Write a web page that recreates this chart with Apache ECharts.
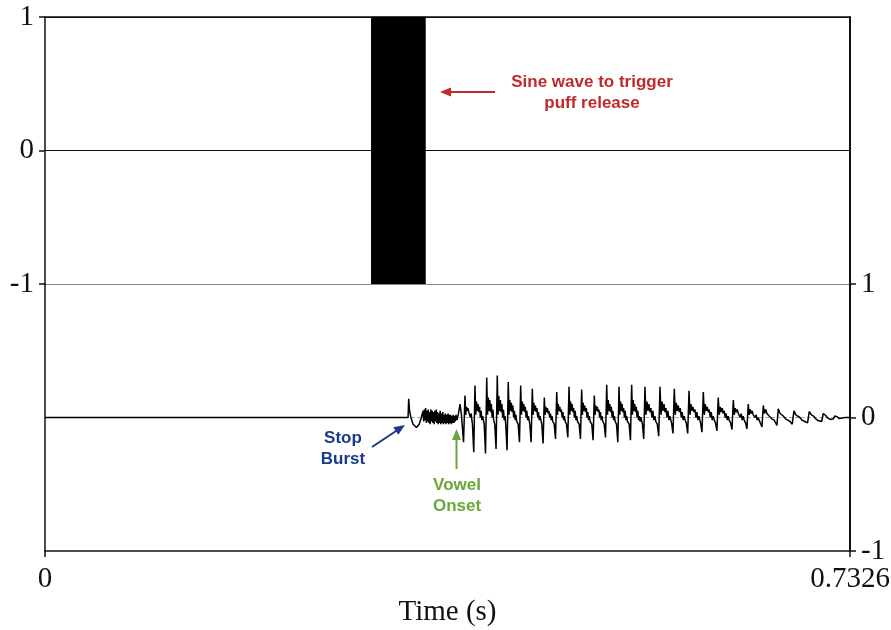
<!DOCTYPE html>
<html>
<head>
<meta charset="utf-8">
<title>Stop burst and vowel onset</title>
<script src="https://cdn.jsdelivr.net/npm/echarts@6/dist/echarts.min.js"></script>
<style>
html, body { margin:0; padding:0; background:#fff; }
#main { width:891px; height:630px; }
</style>
</head>
<body>
<div id="main"></div>
<script>
// time axis (seconds) and amplitude ticks
var timeMax = 0.7326;
var ampTicks = [-1, 0, 1];

// trigger sine wave: drawn as its envelope (ms)
var sineStartMs = 296.7;
var sineEndMs = 346.5;
var sineAmp = 1;

// microphone signal, [time ms, amplitude]
var waveMs = [
	[0, 0], [330.4, 0],
	// stop burst
	[331.0, .14], [331.8, .05], [333.0, 0], [335.0, -.05], [338.0, -.075], [340.5, -.05], [342.5, 0],
	// aspiration noise
	[344.0, .05], [344.6, -.03], [345.2, .06], [345.8, -.02], [346.4, .07], [347.0, -.04], [347.6, .05], [348.2, -.03],
	[348.8, .06], [349.4, -.04], [350.0, .04], [350.6, -.05], [351.2, .06], [351.8, -.03], [352.4, .05], [353.0, -.04],
	[353.6, .04], [354.2, -.05], [354.8, .05], [355.4, -.03], [356.0, .06], [356.6, -.04], [357.2, .04], [357.8, -.05],
	[358.4, .03], [359.0, -.04], [359.6, .05], [360.2, -.05], [360.8, .03], [361.4, -.04], [362.0, .04], [362.6, -.05],
	[363.2, .02], [363.8, -.04], [364.4, .03], [365.0, -.05], [365.6, .02], [366.2, -.04], [366.8, .03], [367.4, -.05],
	[368.0, .02], [368.6, -.04], [369.2, .02], [369.8, -.05], [370.4, .01], [371.0, -.04], [371.6, .02], [372.2, -.04],
	[372.8, .01], [373.4, -.03], [374.0, .02], [375.0, -.02], [376.5, .04], [377.7, .10], [379.0, .02], [380.9, -.185],
	// voicing
	[382.2, .165], [382.9, .02], [383.6, .08], [384.3, .05], [385.0, .07], [385.7, .04], [386.4, .05], [387.1, 0], [387.8, .03], [388.5, -.02], [389.0, -.05], [390.2, -.26],
	[391.3, .24], [392.0, .02], [392.7, .12], [393.4, .05], [394.1, .10], [394.8, .04], [395.5, .08], [396.2, 0], [396.9, .05], [397.6, -.02], [398.3, .01], [399.7, -.05], [400.9, -.27],
	[402.0, .30], [402.7, .02], [403.4, .15], [404.1, .05], [404.8, .13], [405.5, .04], [406.2, .10], [406.9, 0], [407.6, .06], [408.3, -.02], [409.3, -.05], [410.5, -.235],
	[411.6, .315], [412.3, .02], [413.0, .16], [413.7, .05], [414.4, .13], [415.1, .04], [415.8, .10], [416.5, 0], [417.2, .06], [417.9, -.02], [418.6, .01], [419.3, -.05], [420.5, -.245],
	[421.6, .265], [422.3, .02], [423.0, .13], [423.7, .05], [424.4, .11], [425.1, .04], [425.8, .09], [426.5, 0], [427.2, .05], [427.9, -.02], [428.6, .02], [429.3, -.03], [430.6, -.05], [431.8, -.185],
	[432.9, .24], [433.6, .02], [434.3, .12], [435.0, .05], [435.7, .10], [436.4, .04], [437.1, .08], [437.8, 0], [438.5, .05], [439.2, -.02], [439.9, .01], [441.2, -.05], [442.4, -.185],
	[443.5, .215], [444.2, .02], [444.9, .11], [445.6, .05], [446.3, .09], [447.0, .04], [447.7, .07], [448.4, 0], [449.1, .04], [449.8, -.02], [450.5, .01], [452.1, -.05], [453.3, -.195],
	[454.4, .15], [455.1, .02], [455.8, .08], [456.5, .04], [457.2, .07], [457.9, .03], [458.6, .05], [459.3, 0], [460.0, .03], [460.7, -.02], [461.4, .01], [462.1, -.03], [463.4, -.05], [464.6, -.16],
	[465.7, .19], [466.4, .02], [467.1, .10], [467.8, .05], [468.5, .08], [469.2, .04], [469.9, .06], [470.6, 0], [471.3, .04], [472.0, -.02], [472.7, .01], [473.4, -.03], [474.6, -.05], [475.8, -.15],
	[476.9, .23], [477.6, .02], [478.3, .12], [479.0, .05], [479.7, .10], [480.4, .04], [481.1, .07], [481.8, 0], [482.5, .05], [483.2, -.02], [483.9, .01], [484.6, -.03], [486.1, -.05], [487.3, -.16],
	[488.4, .21], [489.1, .02], [489.8, .11], [490.5, .05], [491.2, .09], [491.9, .04], [492.6, .07], [493.3, 0], [494.0, .04], [494.7, -.02], [495.4, .01], [496.1, -.03], [497.6, -.05], [498.8, -.17],
	[499.9, .165], [500.6, .02], [501.3, .09], [502.0, .05], [502.7, .08], [503.4, .04], [504.1, .06], [504.8, 0], [505.5, .04], [506.2, -.02], [506.9, .01], [507.6, -.03], [508.9, -.05], [510.1, -.15],
	[511.2, .245], [511.9, .02], [512.6, .13], [513.3, .05], [514.0, .10], [514.7, .04], [515.4, .08], [516.1, 0], [516.8, .05], [517.5, -.02], [518.2, .01], [518.9, -.03], [520.1, -.05], [521.3, -.185],
	[522.4, .23], [523.1, .02], [523.8, .12], [524.5, .05], [525.2, .10], [525.9, .04], [526.6, .07], [527.3, 0], [528.0, .05], [528.7, -.02], [529.4, .01], [530.1, -.03], [531.6, -.05], [532.8, -.17],
	[533.9, .245], [534.6, .02], [535.3, .13], [536.0, .05], [536.7, .10], [537.4, .04], [538.1, .08], [538.8, 0], [539.5, .05], [540.2, -.02], [540.9, .01], [541.6, -.03], [542.3, 0], [543.7, -.05], [544.9, -.16],
	[546.0, .23], [546.9, .02], [547.8, .12], [548.7, .05], [549.6, .10], [550.5, .04], [551.4, .07], [552.3, 0], [553.2, .05], [554.1, -.02], [555.0, .01], [555.9, -.03], [557.2, -.05], [558.5, -.14],
	[559.7, .23], [560.6, .02], [561.5, .12], [562.4, .05], [563.3, .10], [564.2, .04], [565.1, .07], [566.0, 0], [566.9, .05], [567.8, -.02], [568.7, .01], [570.2, -.04], [571.5, -.12],
	[572.7, .215], [573.6, .02], [574.5, .11], [575.4, .05], [576.3, .09], [577.2, .04], [578.1, .07], [579.0, 0], [579.9, .04], [580.8, -.02], [581.7, .01], [582.6, -.02], [583.6, -.04], [584.9, -.12],
	[586.1, .20], [587.0, .02], [587.9, .10], [588.8, .05], [589.7, .08], [590.6, .04], [591.5, .06], [592.4, 0], [593.3, .04], [594.2, -.02], [595.1, .01], [596.6, -.04], [597.9, -.11],
	[599.1, .19], [600.0, .02], [600.9, .10], [601.8, .05], [602.7, .08], [603.6, .04], [604.5, .06], [605.4, 0], [606.3, .04], [607.2, -.02], [608.1, .01], [609.0, -.02], [610.2, -.04], [611.5, -.10],
	[612.7, .15], [613.6, .02], [614.5, .08], [615.4, .04], [616.3, .07], [617.2, .03], [618.1, .05], [619.0, 0], [619.9, .03], [620.8, -.02], [621.7, .01], [622.6, -.02], [623.9, -.04], [625.2, -.09],
	[626.4, .13], [627.3, .02], [628.2, .07], [629.1, .04], [630.0, .06], [630.9, .03], [631.8, .04], [632.7, 0], [633.6, .03], [634.5, -.02], [635.4, .01], [636.3, -.02], [637.5, -.04], [638.8, -.085],
	[640.0, .10], [640.9, .02], [641.8, .06], [642.7, .03], [643.6, .05], [644.5, .02], [645.4, .03], [646.3, 0], [647.2, .02], [648.1, -.02], [649.0, 0], [649.9, -.02], [651.2, -.03], [652.5, -.07],
	[653.7, .09], [654.8, .03], [655.9, .06], [657.0, .03], [658.1, .04], [659.2, .01], [660.3, .02], [661.4, -.01], [662.5, 0], [663.6, -.02], [664.8, -.03], [666.1, -.06],
	// decay
	[667.3, .065], [669.0, .03], [670.5, .035], [672.0, .01], [674.0, -.01], [676.0, -.02], [678.0, -.03], [680.0, -.05],
	[681.6, .05], [683.3, .02], [685.0, .025], [687.0, 0], [689.0, -.02], [691.5, -.03], [694.0, -.04],
	[695.5, .045], [697.5, .02], [699.5, .01], [701.5, -.01], [704.0, -.025], [706.8, -.03],
	[708.3, .03], [710.5, .015], [712.5, -.005], [715.0, -.015], [717.5, -.01],
	[718.9, .012], [721.0, .005], [723.0, -.008], [725.5, -.004], [728.0, 0], [732.6, 0]
];

var waveData = waveMs.map(function (p) { return [p[0] / 1000, p[1]]; });
var sineData = [[sineStartMs / 1000, sineAmp], [sineEndMs / 1000, sineAmp]];

var axisFont = { fontFamily: 'Liberation Serif', fontSize: 29, color: '#111' };
var noteFont = 'bold 17px "Liberation Sans"';

function arrow(x1, y1, x2, y2, color) {
	var dx = x2 - x1, dy = y2 - y1;
	var len = Math.sqrt(dx * dx + dy * dy);
	var ux = dx / len, uy = dy / len;
	var hl = 11, hw = 4.5;
	var bx = x2 - ux * hl, by = y2 - uy * hl;
	return [
		{ type: 'line', shape: { x1: x1, y1: y1, x2: bx + ux * 2, y2: by + uy * 2 },
		  style: { stroke: color, lineWidth: 2 } },
		{ type: 'polygon', shape: { points: [[x2, y2], [bx - uy * hw, by + ux * hw], [bx + uy * hw, by - ux * hw]] },
		  style: { fill: color } }
	];
}

var myChart = echarts.init(document.getElementById('main'));

var option = {
	animation: false,
	grid: [
		{ left: 45, top: 17, width: 805, height: 267, outerBoundsMode: 'none' },
		{ left: 45, top: 284, width: 805, height: 267, outerBoundsMode: 'none' }
	],
	xAxis: [
		{
			gridIndex: 0, type: 'value', min: 0, max: timeMax, position: 'top',
			axisLine: { show: true, onZero: false, lineStyle: { color: '#111', width: 1.5 } },
			axisTick: { show: false }, axisLabel: { show: false }, splitLine: { show: false }
		},
		{
			gridIndex: 1, type: 'value', min: 0, max: timeMax, interval: timeMax, position: 'bottom',
			axisLine: { show: true, onZero: false, lineStyle: { color: '#111', width: 1.5 } },
			axisTick: { show: true, length: 6, lineStyle: { color: '#111', width: 1.5 } },
			axisLabel: Object.assign({ margin: 14, formatter: function (v) { return String(v); } }, axisFont),
			splitLine: { show: false },
			name: 'Time (s)', nameLocation: 'middle', nameGap: 47,
			nameTextStyle: axisFont
		}
	],
	yAxis: [
		{
			gridIndex: 0, type: 'value', position: 'left', min: ampTicks[0], max: ampTicks[2], interval: 1,
			axisLine: { show: true, onZero: false, lineStyle: { color: '#111', width: 1.5 } },
			axisTick: { show: true, length: 6, lineStyle: { color: '#111', width: 1.5 } },
			axisLabel: Object.assign({ margin: 11 }, axisFont),
			splitLine: { show: true, lineStyle: { color: ['#888', '#111', '#111'], width: 1.2 } }
		},
		{
			gridIndex: 0, type: 'value', position: 'right', min: -1, max: 1,
			axisLine: { show: true, onZero: false, lineStyle: { color: '#111', width: 2 } },
			axisTick: { show: false }, axisLabel: { show: false }, splitLine: { show: false }
		},
		{
			gridIndex: 1, type: 'value', position: 'left', min: -1, max: 1,
			axisLine: { show: true, onZero: false, lineStyle: { color: '#111', width: 1.5 } },
			axisTick: { show: false }, axisLabel: { show: false }, splitLine: { show: false }
		},
		{
			gridIndex: 1, type: 'value', position: 'right', min: ampTicks[0], max: ampTicks[2], interval: 1,
			axisLine: { show: true, onZero: false, lineStyle: { color: '#111', width: 2 } },
			axisTick: { show: true, length: 6, lineStyle: { color: '#111', width: 1.5 } },
			axisLabel: Object.assign({ margin: 11 }, axisFont),
			splitLine: { show: false }
		}
	],
	series: [
		{
			name: 'sine', type: 'line', xAxisIndex: 0, yAxisIndex: 0,
			data: sineData, showSymbol: false,
			lineStyle: { color: '#000', width: 1 },
			areaStyle: { color: '#000', opacity: 1, origin: 'start' }
		},
		{
			name: 'zero', type: 'line', xAxisIndex: 1, yAxisIndex: 3, z: 1,
			data: [[0, 0], [timeMax, 0]], showSymbol: false,
			lineStyle: { color: '#aaa', width: 1, type: 'dashed' }
		},
		{
			name: 'wave', type: 'line', xAxisIndex: 1, yAxisIndex: 3, z: 3,
			data: waveData, showSymbol: false, sampling: null,
			lineStyle: { color: '#000', width: 1.5 }
		}
	],
	graphic: [].concat(
		arrow(495, 92, 440, 92, '#c0282a'),
		arrow(372, 447, 405, 425, '#1b3a8c'),
		arrow(456.5, 469, 456.5, 429, '#6aa63a'),
		[
			{ type: 'text', style: { text: 'Sine wave to trigger\npuff release', x: 592, y: 93, font: noteFont,
				fill: '#c0282a', align: 'center', verticalAlign: 'middle', lineHeight: 20.5 } },
			{ type: 'text', style: { text: 'Stop\nBurst', x: 343, y: 449, font: noteFont,
				fill: '#1b3a8c', align: 'center', verticalAlign: 'middle', lineHeight: 20.5 } },
			{ type: 'text', style: { text: 'Vowel\nOnset', x: 457, y: 496, font: noteFont,
				fill: '#6aa63a', align: 'center', verticalAlign: 'middle', lineHeight: 20.5 } }
		]
	)
};

myChart.setOption(option);
</script>
</body>
</html>
